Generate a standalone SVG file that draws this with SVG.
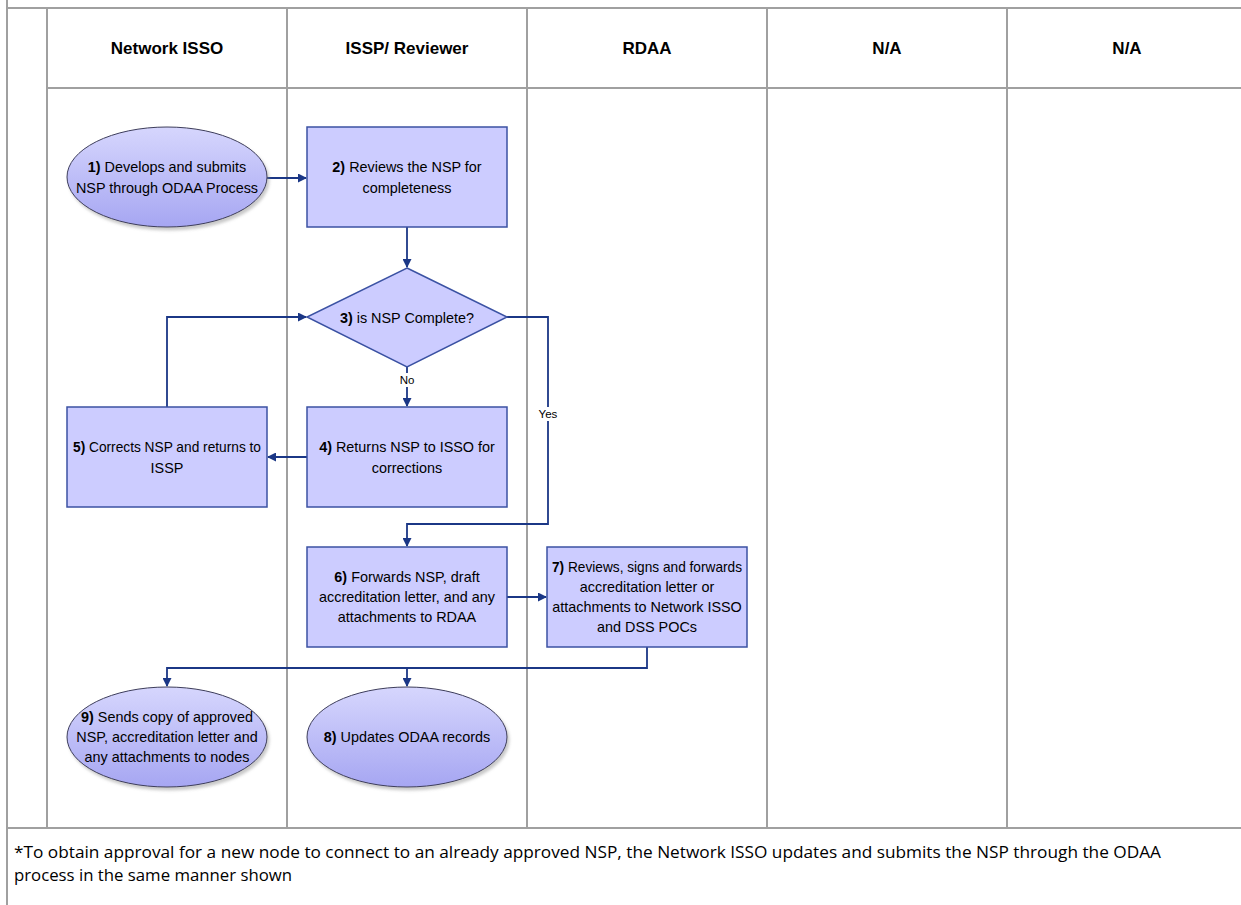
<svg xmlns="http://www.w3.org/2000/svg" width="1241" height="905" viewBox="0 0 1241 905">
<style>
.grid{stroke:#a0a0a0;stroke-width:2;fill:none}
.hdr{font-family:"Liberation Sans",Arial,sans-serif;font-size:17px;font-weight:bold;fill:#000;text-anchor:middle}
.t{font-family:"Liberation Sans",Arial,sans-serif;font-size:14.4px;fill:#000;text-anchor:middle}
.lbl{font-family:"Liberation Sans",Arial,sans-serif;font-size:11.5px;fill:#000;text-anchor:middle}
.box{fill:#ccccff;stroke:#3b52a3;stroke-width:1.5}
.ell{fill:url(#eg);stroke:#3c3c5a;stroke-width:1;filter:url(#sh)}
.con{stroke:#1b3786;stroke-width:1.8;fill:none}
.foot{font-family:"Open Sans","Liberation Sans",sans-serif;font-size:16px;fill:#000}
</style>
<defs>
<linearGradient id="eg" x1="0" y1="0" x2="0" y2="1">
<stop offset="0" stop-color="#d6d6fd"/>
<stop offset="1" stop-color="#a6a6f2"/>
</linearGradient>
<filter id="sh" x="-10%" y="-10%" width="130%" height="140%">
<feDropShadow dx="2" dy="3" stdDeviation="1.5" flood-color="#888" flood-opacity="0.45"/>
</filter>
<marker id="ah" markerWidth="9" markerHeight="9" refX="8" refY="4.5" orient="auto" markerUnits="userSpaceOnUse">
<path d="M0,0 L9,4.5 L0,9 z" fill="#1b3786"/>
</marker>
</defs>
<rect width="1241" height="905" fill="#fff"/>
<g id="table">
<line class="grid" x1="7" y1="0" x2="7" y2="905"/>
<line class="grid" x1="7" y1="8" x2="1241" y2="8"/>
<line class="grid" x1="47" y1="8" x2="47" y2="828"/>
<line class="grid" x1="47" y1="88" x2="1241" y2="88"/>
<line class="grid" x1="287" y1="8" x2="287" y2="828"/>
<line class="grid" x1="527" y1="8" x2="527" y2="828"/>
<line class="grid" x1="767" y1="8" x2="767" y2="828"/>
<line class="grid" x1="1007" y1="8" x2="1007" y2="828"/>
<line class="grid" x1="7" y1="828" x2="1241" y2="828"/>
<text class="hdr" x="167" y="54">Network ISSO</text>
<text class="hdr" x="407" y="54">ISSP/ Reviewer</text>
<text class="hdr" x="647" y="54">RDAA</text>
<text class="hdr" x="887" y="54">N/A</text>
<text class="hdr" x="1127" y="54">N/A</text>
</g>
<g id="connectors">
<path class="con" d="M267,178 H306" marker-end="url(#ah)"/>
<path class="con" d="M407,227 V267" marker-end="url(#ah)"/>
<path class="con" d="M407,367 V406" marker-end="url(#ah)"/>
<path class="con" d="M307,457 H268" marker-end="url(#ah)"/>
<path class="con" d="M167,407 V317 H306" marker-end="url(#ah)"/>
<path class="con" d="M507,317 H548 V524 H407 V546" marker-end="url(#ah)"/>
<path class="con" d="M507,597 H546" marker-end="url(#ah)"/>
<path class="con" d="M647,647 V668 H167 V686" marker-end="url(#ah)"/>
<path class="con" d="M407,668 V686" marker-end="url(#ah)"/>
<rect x="398" y="373" width="18" height="14" fill="#fff"/>
<text class="lbl" x="407" y="384">No</text>
<rect x="537" y="407" width="22" height="14" fill="#fff"/>
<text class="lbl" x="548" y="418">Yes</text>
</g>
<g id="n1">
<ellipse class="ell" cx="167" cy="177" rx="100" ry="50"/>
<text class="t" x="167" y="172"><tspan font-weight="bold">1)</tspan> Develops and submits</text>
<text class="t" x="167" y="193">NSP through ODAA Process</text>
</g>
<g id="n2">
<rect class="box" x="307" y="127" width="200" height="100"/>
<text class="t" x="407" y="172"><tspan font-weight="bold">2)</tspan> Reviews the NSP for</text>
<text class="t" x="407" y="193">completeness</text>
</g>
<g id="n3">
<polygon class="box" points="407,268 507,317 407,367 307,317"/>
<text class="t" x="407" y="323"><tspan font-weight="bold">3)</tspan> is NSP Complete?</text>
</g>
<g id="n4">
<rect class="box" x="307" y="407" width="200" height="100"/>
<text class="t" x="407" y="452"><tspan font-weight="bold">4)</tspan> Returns NSP to ISSO for</text>
<text class="t" x="407" y="473">corrections</text>
</g>
<g id="n5">
<rect class="box" x="67" y="407" width="200" height="100"/>
<text class="t" x="167" y="452" textLength="188" lengthAdjust="spacingAndGlyphs"><tspan font-weight="bold">5)</tspan> Corrects NSP and returns to</text>
<text class="t" x="167" y="473">ISSP</text>
</g>
<g id="n6">
<rect class="box" x="307" y="547" width="200" height="100"/>
<text class="t" x="407" y="582"><tspan font-weight="bold">6)</tspan> Forwards NSP, draft</text>
<text class="t" x="407" y="602">accreditation letter, and any</text>
<text class="t" x="407" y="622">attachments to RDAA</text>
</g>
<g id="n7">
<rect class="box" x="547" y="547" width="200" height="100"/>
<text class="t" x="647" y="572" textLength="190" lengthAdjust="spacingAndGlyphs"><tspan font-weight="bold">7)</tspan> Reviews, signs and forwards</text>
<text class="t" x="647" y="592">accreditation letter or</text>
<text class="t" x="647" y="612">attachments to Network ISSO</text>
<text class="t" x="647" y="632">and DSS POCs</text>
</g>
<g id="n8">
<ellipse class="ell" cx="407" cy="737" rx="100" ry="50"/>
<text class="t" x="407" y="742"><tspan font-weight="bold">8)</tspan> Updates ODAA records</text>
</g>
<g id="n9">
<ellipse class="ell" cx="167" cy="737" rx="100" ry="50"/>
<text class="t" x="167" y="722"><tspan font-weight="bold">9)</tspan> Sends copy of approved</text>
<text class="t" x="167" y="742">NSP, accreditation letter and</text>
<text class="t" x="167" y="762">any attachments to nodes</text>
</g>
<g id="footer">
<text class="foot" x="14" y="858" textLength="1147" lengthAdjust="spacingAndGlyphs">*To obtain approval for a new node to connect to an already approved NSP, the Network ISSO updates and submits the NSP through the ODAA</text>
<text class="foot" x="14" y="881" textLength="278" lengthAdjust="spacingAndGlyphs">process in the same manner shown</text>
</g>
</svg>
